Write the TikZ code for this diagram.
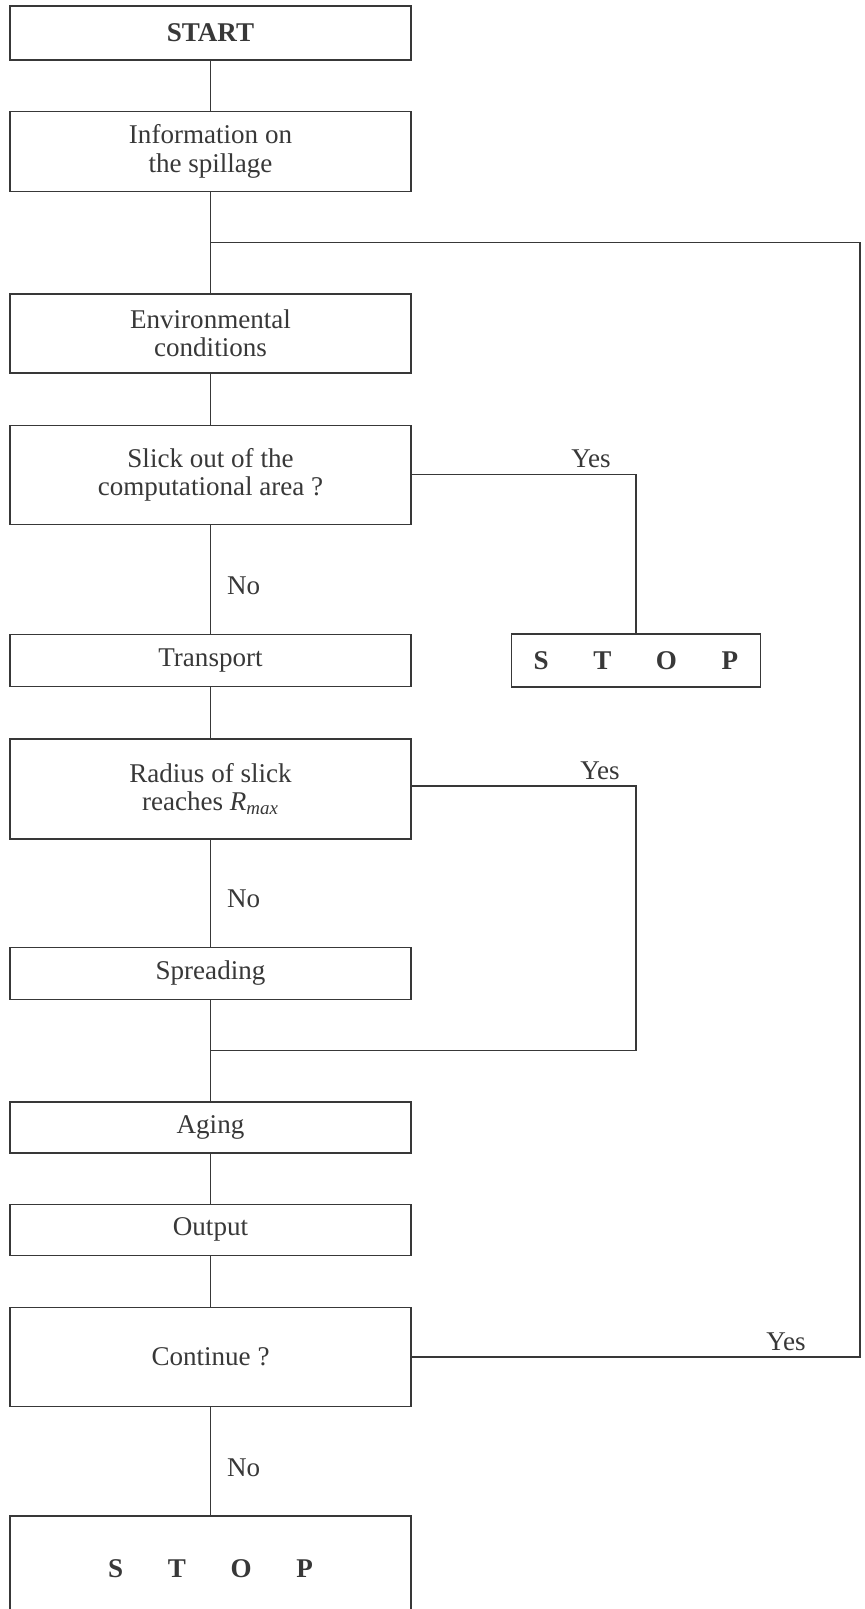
\documentclass[tikz,border=0pt]{standalone}
\usepackage{fontspec}
\setmainfont{Liberation Serif}
\usepackage{xcolor}
\usepackage{tikz}
\usetikzlibrary{positioning,calc}

\definecolor{ink}{gray}{0.22}
\newcommand{\spacedstop}{S\hspace{1.65em}T\hspace{1.65em}O\hspace{1.65em}P}

\tikzset{
  flowbox/.style={draw=ink, rectangle, line width=0.8pt, text=ink, align=center,
    minimum width=8.02cm, inner sep=0pt, font=\fontsize{15.4pt}{16pt}\selectfont},
  answer/.style={text=ink, font=\fontsize{15.4pt}{16pt}\selectfont},
  link/.style={draw=ink, line width=0.8pt}
}

\begin{document}
\begin{tikzpicture}
    \useasboundingbox (0,0) rectangle (17.28,-32.18);

    % Main column
    \node [flowbox, minimum height=1.08cm] (start) at (4.21,-0.66) {\textbf{START}};
    \node [flowbox, minimum height=1.6cm, below=1.0cm of start] (info) {Information on\\ the spillage};
    \node [flowbox, minimum height=1.58cm, below=2.02cm of info] (env) {Environmental\\ conditions};
    \node [flowbox, minimum height=1.98cm, below=1.02cm of env] (slick) {Slick out of the\\ computational area ?};
    \node [flowbox, minimum height=1.04cm, below=2.18cm of slick] (transport) {Transport};
    \node [flowbox, minimum height=2.0cm, below=1.02cm of transport] (radius) {Radius of slick\\ reaches \textit{R\textsubscript{max}}};
    \node [flowbox, minimum height=1.04cm, below=2.14cm of radius] (spread) {Spreading};
    \node [flowbox, minimum height=1.02cm, below=2.02cm of spread] (aging) {Aging};
    \node [flowbox, minimum height=1.02cm, below=1.0cm of aging] (output) {Output};
    \node [flowbox, minimum height=1.98cm, below=1.02cm of output] (cont) {Continue ?};
    \node [flowbox, minimum height=2.1cm, below=2.16cm of cont] (stopend) {\textbf{\spacedstop}};

    % Side stop
    \node [flowbox, minimum width=4.98cm, minimum height=1.06cm, right=1.98cm of transport] (stopside) {\textbf{\spacedstop}};

    % Junctions
    \coordinate (looptop) at ($(info.south)!0.5!(env.north)$);
    \coordinate (spreadjoin) at ($(spread.south)!0.5!(aging.north)$);
    \coordinate (rightedge) at (17.2,0);

    % Lines
    \draw [link] (start) -- (info);
    \draw [link] (info) -- (env);
    \draw [link] (env) -- (slick);
    \draw [link] (slick) -- node [answer, right=0.2cm, yshift=-0.12cm] {No} (transport);
    \draw [link] (transport) -- (radius);
    \draw [link] (radius) -- node [answer, right=0.2cm, yshift=-0.12cm] {No} (spread);
    \draw [link] (spread) -- (aging);
    \draw [link] (aging) -- (output);
    \draw [link] (output) -- (cont);
    \draw [link] (cont) -- node [answer, right=0.2cm, yshift=-0.12cm] {No} (stopend);

    \draw [link] (slick.east) -| node [answer, pos=0.4, above] {Yes} (stopside.north);
    \draw [link] ($(radius.east)+(0,0.06)$) -| node [answer, pos=0.42, above] {Yes} (stopside.south |- spreadjoin) -- (spreadjoin);
    \draw [link] (cont.east) -- node [answer, pos=0.835, above] {Yes} (cont.east -| rightedge) |- (looptop);
  \end{tikzpicture}
\end{document}
